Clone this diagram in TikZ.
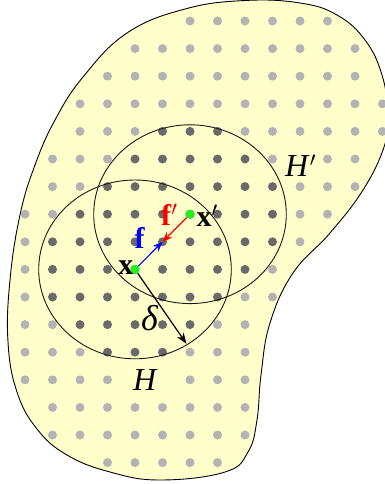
\documentclass[tikz,border=0pt]{standalone}
\usepackage{fontspec}
\setmainfont{Liberation Serif}
\usetikzlibrary{arrows.meta,calc}
\definecolor{blobfill}{HTML}{FFFFCC}
\definecolor{lightdot}{HTML}{B3B3B3}
\definecolor{darkdot}{HTML}{6A6A6A}
\definecolor{ptgreen}{HTML}{22EE22}
\begin{document}
\begin{tikzpicture}[x=1pt,y=-1pt,
  blob/.style={draw=black,fill=blobfill,line width=0.9pt},
  ring/.style={draw=black!90,line width=0.9pt},
  gdot/.style={circle,fill=ptgreen,inner sep=0pt,minimum size=9pt},
  vec/.style={line width=1.2pt,-{Stealth[length=10pt,width=8pt]}},
  lbl/.style={inner sep=0pt,font=\fontsize{30}{30}\selectfont},
  biglbl/.style={inner sep=0pt,font=\fontsize{32}{32}\selectfont}]
\useasboundingbox (0,0) rectangle (384,484);
\path[blob] plot[smooth cycle, tension=0.7] coordinates {
  (245,0.5) (300,3) (337,15) (365,40) (382,75) (388,115) (384,147)
  (363,190) (330,233) (293,273) (270,323) (261,375) (257,420) (248,452)
  (225,472) (160,480) (110,472) (67,455) (37,429) (17,392) (8,342)
  (10,280) (20,215) (35,165) (55,120) (83,77) (127,33) (185,9)};
\foreach \r/\a/\b in {0/6/11,1/4/12,2/3/12,3/2/13,4/2/13,5/1/12,6/1/12,7/0/11,
  8/0/10,9/0/9,10/0/9,11/0/8,12/0/8,13/0/8,14/1/8,15/1/8,16/3/7}{
  \foreach \k in {\a,...,\b}{
    \pgfmathsetmacro\px{25+27.5*\k}
    \pgfmathsetmacro\py{21+27.6*\r}
    \pgfmathsetmacro\inH{((\px-135)/96.3)^2+((\py-269.4)/89.4)^2}
    \pgfmathsetmacro\inHp{((\px-190)/96.3)^2+((\py-214.2)/89.4)^2}
    \pgfmathtruncatemacro\isdark{(\inH<1)||(\inHp<1)}
    \pgfmathtruncatemacro\isskip{(\r==5 && \k==10) || (\r==13 && (\k==4 || \k==5))}
    \ifnum\isdark=1 \def\dc{darkdot}\else\def\dc{lightdot}\fi
    \ifnum\isskip=0 \fill[\dc] (\px,\py) circle[radius=4.5];\fi
  }
}
\node[gdot] (x) at (135,269.4) {};
\node[gdot] (xp) at (190,214.2) {};
\draw[ring] (x.center) ellipse [x radius=96.3, y radius=89.4];
\draw[ring] (xp.center) ellipse [x radius=96.3, y radius=89.4];
\coordinate (m) at ($(x.center)!0.5!(xp.center)$);
\coordinate (dtip) at (186.5,343.8);
\draw[vec,blue] (x) -- (m);
\draw[vec,red] (xp) -- (m);
\draw[line width=1.2pt,-{Stealth[length=11pt,width=8pt]}] (x) -- (dtip);
\node[gdot] at (x) {};
\node[gdot] at (xp) {};
\node[lbl,anchor=base east] (lx) at (133.5,274.5) {\textbf{x}};
\node[lbl,anchor=base west] (lxp) at (196.5,226) {\textbf{x}$'$};
\node[lbl,anchor=base west,text=blue] (lf) at (134.5,248) {\textbf{f}};
\node[lbl,anchor=base west,text=red] (lfp) at (161,225) {\textbf{f}$'$};
\node[biglbl,anchor=base west] (lH) at (133,390) {\textit{H}};
\node[biglbl,anchor=base west] (lHp) at (285,176) {\textit{H}$'$};
\node[inner sep=0pt,font=\fontsize{36}{36}\selectfont,anchor=base west] (ld) at (141,330) {\textit{δ}};
\end{tikzpicture}
\end{document}
